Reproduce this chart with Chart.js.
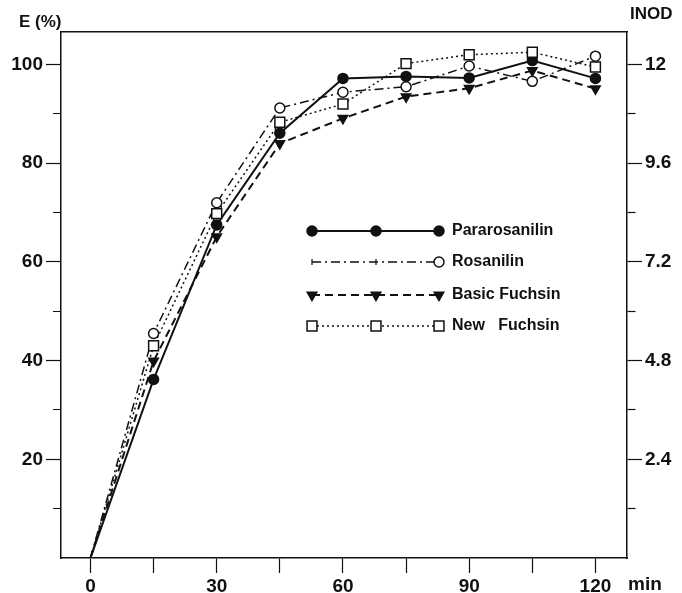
<!DOCTYPE html>
<html>
<head>
<meta charset="utf-8">
<script src="https://cdn.jsdelivr.net/npm/chart.js@4.4.1/dist/chart.umd.min.js"></script>
<style>
  html, body { margin: 0; padding: 0; background: #fff; }
  #wrap { width: 682px; height: 593px; }
</style>
</head>
<body>
<div id="wrap"><canvas id="c" width="682" height="593"></canvas></div>
<script>
// data
const minutes = [0, 15, 30, 45, 60, 75, 90, 105, 120];
const pararosanilin = [0, 36.2, 67.5, 86.1, 97.2, 97.6, 97.3, 100.8, 97.2];
const rosanilin = [0, 45.5, 72.0, 91.2, 94.4, 95.5, 99.7, 96.6, 101.7];
const basicFuchsin = [0, 39.9, 65.1, 84.0, 89.1, 93.5, 95.2, 98.8, 95.1];
const newFuchsin = [0, 43.0, 69.8, 88.3, 92.0, 100.2, 102.0, 102.5, 99.5];
const seriesNames = ['Pararosanilin', 'Rosanilin', 'Basic Fuchsin', 'New   Fuchsin'];

const xTicks = [0, 15, 30, 45, 60, 75, 90, 105, 120];
const yTicks = [10, 20, 30, 40, 50, 60, 70, 80, 90, 100];
const leftTickLabels = { 20: '20', 40: '40', 60: '60', 80: '80', 100: '100' };
const rightTickLabels = { 20: '2.4', 40: '4.8', 60: '7.2', 80: '9.6', 100: '12' };

const INK = '#111';
const FONT = 'bold 19px "Liberation Sans", Arial, sans-serif';

const pts = arr => arr.map((v, i) => ({ x: minutes[i], y: v }));
const noFirst = r => ctx => (ctx.dataIndex === 0 ? 0 : r);

// styles for each series (also used by the legend)
const styles = [
  { dash: [], width: 2, point: 'circle', radius: 5, fill: INK, rot: 0 },
  { dash: [9, 4, 2, 4], width: 1.5, point: 'circle', radius: 5, fill: '#fff', rot: 0 },
  { dash: [8, 5], width: 2, point: 'triangle', radius: 5.5, fill: INK, rot: 180 },
  { dash: [2, 3], width: 1.5, point: 'rect', radius: 7, fill: '#fff', rot: 0 }
];
const values = [pararosanilin, rosanilin, basicFuchsin, newFuchsin];

const datasets = values.map((v, i) => ({
  label: seriesNames[i],
  data: pts(v),
  borderColor: INK,
  borderWidth: styles[i].width,
  borderDash: styles[i].dash,
  pointStyle: styles[i].point,
  pointRotation: styles[i].rot,
  pointRadius: noFirst(styles[i].radius),
  pointBackgroundColor: styles[i].fill,
  pointBorderColor: INK,
  pointBorderWidth: 1.5,
  tension: 0,
  order: 3 - i
}));

function minorDash(left) {
  return ctx => {
    const v = ctx.tick && ctx.tick.value;
    if (v % 20 === 0) return [];
    return left ? [0, 7, 8, 100] : [8, 100];
  };
}

const labelsPlugin = {
  id: 'extraText',
  afterDraw(chart) {
    const c = chart.ctx;
    c.save();
    c.fillStyle = INK;
    c.font = 'bold 17px "Liberation Sans", Arial, sans-serif';
    c.textBaseline = 'middle';
    c.textAlign = 'left';
    c.fillText('E (%)', 19, 22);
    c.fillText('INOD', 630, 14);
    c.font = FONT;
    c.fillText('min', 628, 585);

    // legend inside the plot
    const rows = [231, 262, 295, 326];
    const x0 = 312, x1 = 439, xm = 376;
    rows.forEach((y, i) => {
      const s = styles[i];
      c.strokeStyle = INK;
      c.lineWidth = s.width;
      c.setLineDash(s.dash);
      c.beginPath();
      c.moveTo(x0, y);
      c.lineTo(x1, y);
      c.stroke();
      c.setLineDash([]);
      const marks = i === 1 ? [x1] : [x0, xm, x1];
      marks.forEach(x => drawMarker(c, s, x, y));
      if (i === 1) {
        [x0, xm].forEach(x => {
          c.lineWidth = 1.2;
          c.beginPath();
          c.moveTo(x, y - 3);
          c.lineTo(x, y + 3);
          c.stroke();
        });
      }
      c.fillStyle = INK;
      c.font = 'bold 16px "Liberation Sans", Arial, sans-serif';
      c.textAlign = 'left';
      c.fillText(seriesNames[i], 452, y);
    });
    c.restore();
  }
};

function drawMarker(c, s, x, y) {
  c.save();
  c.fillStyle = s.fill;
  c.strokeStyle = INK;
  c.lineWidth = 1.5;
  c.beginPath();
  if (s.point === 'circle') {
    c.arc(x, y, s.radius, 0, Math.PI * 2);
  } else if (s.point === 'rect') {
    const h = s.radius * Math.SQRT1_2;
    c.rect(x - h, y - h, h * 2, h * 2);
  } else {
    const r = s.radius;
    c.moveTo(x, y + r);
    c.lineTo(x - r * 0.866, y - r / 2);
    c.lineTo(x + r * 0.866, y - r / 2);
    c.closePath();
  }
  c.fill();
  c.stroke();
  c.restore();
}

const tickFont = { family: '"Liberation Sans", Arial, sans-serif', size: 19, weight: 'bold' };

new Chart(document.getElementById('c'), {
  type: 'line',
  data: { datasets },
  plugins: [labelsPlugin],
  options: {
    responsive: false,
    devicePixelRatio: 1,
    animation: false,
    layout: { padding: 0 },
    plugins: { legend: { display: false }, tooltip: { enabled: false } },
    scales: {
      x: {
        type: 'linear', position: 'bottom', min: -7, max: 127.5,
        afterBuildTicks: s => { s.ticks = xTicks.map(v => ({ value: v })); },
        afterFit: s => { s.height = 35; },
        ticks: {
          color: INK, font: tickFont, padding: 2, maxRotation: 0, autoSkip: false,
          callback: v => (v % 30 === 0 ? String(v) : '')
        },
        grid: { drawOnChartArea: false, tickLength: 15, tickColor: INK, tickWidth: 1.2 },
        border: { color: INK, width: 1.5 }
      },
      x2: {
        type: 'linear', position: 'top', min: -7, max: 127.5,
        afterFit: s => { s.height = 32; },
        ticks: { display: false },
        grid: { display: false },
        border: { color: INK, width: 1.5 }
      },
      y: {
        type: 'linear', position: 'left', min: 0, max: 106.6,
        afterBuildTicks: s => { s.ticks = yTicks.map(v => ({ value: v })); },
        afterFit: s => { s.width = 61; },
        ticks: {
          color: INK, font: tickFont, padding: 3, autoSkip: false,
          callback: v => leftTickLabels[v] || ''
        },
        grid: { drawOnChartArea: false, tickLength: 15, tickColor: INK, tickWidth: 1.2, tickBorderDash: minorDash(true) },
        border: { color: INK, width: 1.5 }
      },
      y2: {
        type: 'linear', position: 'right', min: 0, max: 106.6,
        afterBuildTicks: s => { s.ticks = yTicks.map(v => ({ value: v })); },
        afterFit: s => { s.width = 55; },
        ticks: {
          color: INK, font: tickFont, padding: 3, autoSkip: false,
          callback: v => rightTickLabels[v] || ''
        },
        grid: { drawOnChartArea: false, tickLength: 15, tickColor: INK, tickWidth: 1.2, tickBorderDash: minorDash(false) },
        border: { color: INK, width: 1.5 }
      }
    }
  }
});
</script>
</body>
</html>
